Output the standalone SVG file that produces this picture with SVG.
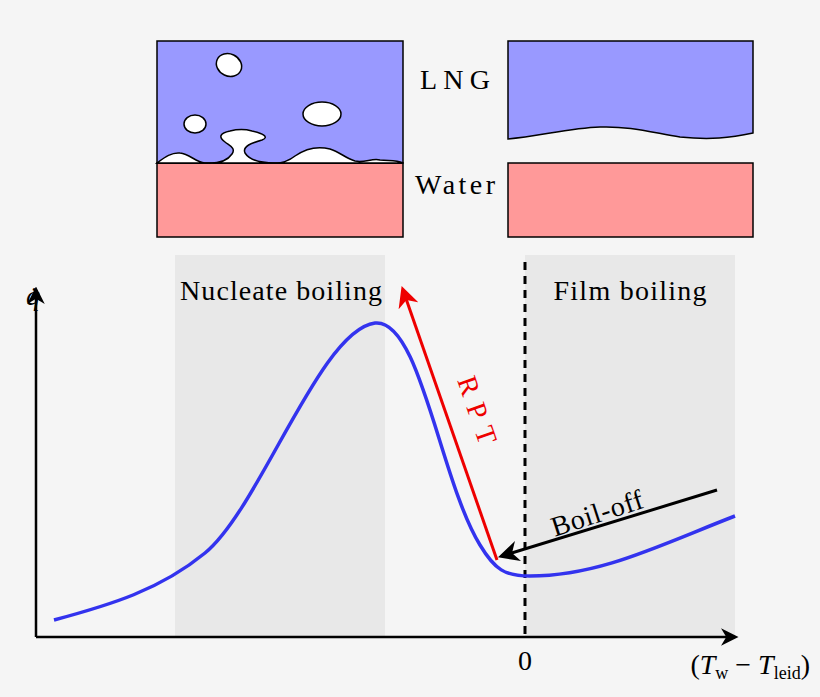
<svg xmlns="http://www.w3.org/2000/svg" width="820" height="697" viewBox="0 0 820 697">
<style>
text{font-family:"Liberation Serif","DejaVu Serif",serif;font-size:28px;fill:#000}
.lng{fill:#9999ff;stroke:#000;stroke-width:1.5}
.wat{fill:#ff9999;stroke:#000;stroke-width:1.5}
.bub{fill:#fff;stroke:#000;stroke-width:1.5}
</style>
<defs>
<marker id="ak" viewBox="0 0 10 10" refX="8" refY="5" markerWidth="7" markerHeight="7" orient="auto"><path d="M0,0L10,5L0,10L3,5z" fill="#000"/></marker>
<marker id="ar" viewBox="0 0 10 10" refX="8" refY="5" markerWidth="7" markerHeight="7" orient="auto"><path d="M0,0L10,5L0,10L3,5z" fill="#ee0000"/></marker>
</defs>
<rect width="820" height="697" fill="#f5f5f5"/>
<g id="bands">
<rect x="175" y="255" width="210" height="382" fill="#e8e8e8"/>
<rect x="525" y="255" width="210" height="382" fill="#e8e8e8"/>
</g>
<g id="left-panel">
<rect class="wat" x="157" y="163" width="246" height="74"/>
<rect class="lng" x="157" y="41" width="246" height="122"/>
<path class="bub" d="M157,163 C165,157 172,152 180,153 C190,154 195,162 205,163 C220,164 228,160 232,154 C236,148 230,146 225,142 C218,137 220,133 230,131 C238,129 245,129 252,131 C262,133 270,137 262,140 C252,143 242,146 245,153 C250,161 262,163 275,163 C285,163 290,160 295,156 C305,149 318,146 330,149 C340,152 345,158 355,161 C365,163 372,158 380,160 C390,161 396,160 403,163 Z"/>
<ellipse class="bub" cx="229" cy="65" rx="13" ry="11" transform="rotate(25 229 65)"/>
<ellipse class="bub" cx="322" cy="114" rx="19" ry="12"/>
<ellipse class="bub" cx="195" cy="124" rx="11" ry="9"/>
</g>
<g id="right-panel">
<path class="lng" d="M508,41 H753 V133 C730,138 710,140 680,137 C650,132 630,126 600,127 C570,128 540,136 508,139 Z"/>
<rect class="wat" x="508" y="163" width="245" height="74"/>
</g>
<text x="455" y="89" text-anchor="middle" textLength="70">LNG</text>
<text x="455" y="194" text-anchor="middle" textLength="80">Water</text>
<g id="connectors">
<line x1="36" y1="637" x2="36" y2="290" stroke="#000" stroke-width="2.5" marker-end="url(#ak)"/>
<line x1="36" y1="637" x2="735" y2="637" stroke="#000" stroke-width="2.5" marker-end="url(#ak)"/>
<line x1="525" y1="262" x2="525" y2="637" stroke="#000" stroke-width="3" stroke-dasharray="8,6"/>
<path d="M54,620 C110,605 160,590 205,553 C260,508 320,330 375,323 C420,318 440,480 480,545 C495,570 505,576 530,576 C600,576 660,545 735,516" fill="none" stroke="#3333ee" stroke-width="3.5"/>
<line x1="497" y1="560" x2="403" y2="290" stroke="#ee0000" stroke-width="3" marker-end="url(#ar)"/>
<line x1="717" y1="490" x2="502" y2="556" stroke="#000" stroke-width="3" marker-end="url(#ak)"/>
</g>
<text x="281" y="300" text-anchor="middle" textLength="202">Nucleate boiling</text>
<text x="630" y="300" text-anchor="middle" textLength="153">Film boiling</text>
<text x="457" y="380" transform="rotate(71 457 380)" style="fill:#ee0000" textLength="70">RPT</text>
<text x="600" y="522" text-anchor="middle" transform="rotate(-18 600 522)" textLength="95">Boil-off</text>
<text x="525" y="670" text-anchor="middle">0</text>
<text x="26" y="305" font-style="italic">q̇</text>
<text x="810" y="674" text-anchor="end">(<tspan font-style="italic">T</tspan><tspan font-size="18" dy="5">w</tspan><tspan dy="-5"> − </tspan><tspan font-style="italic">T</tspan><tspan font-size="18" dy="5">leid</tspan><tspan dy="-5">)</tspan></text>
</svg>
